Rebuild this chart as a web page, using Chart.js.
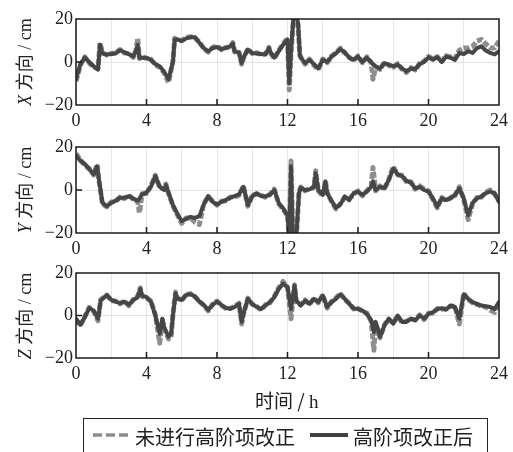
<!DOCTYPE html>
<html>
<head>
<meta charset="utf-8">
<script src="https://cdn.jsdelivr.net/npm/chart.js@4"></script>
<style>
  body { margin: 0; background: #fff; }
  #wrap { position: relative; width: 513px; height: 452px; overflow: hidden; font-family: 'Liberation Serif', 'Noto Sans CJK SC', serif; color: #222; }
  canvas { position: absolute; left: 0; }
  .ytitle { position: absolute; width: 120px; text-align: center; font-size: 18px; transform: translate(-50%, -50%) rotate(-90deg); white-space: nowrap; }
  .ytitle i { font-family: 'Liberation Serif', serif; }
  .lab { position: absolute; white-space: nowrap; font-family: 'Noto Sans CJK SC', sans-serif; }
</style>
</head>
<body>
<div id="wrap">
  <canvas id="cX" style="top:0px" width="513" height="130"></canvas>
  <canvas id="cY" style="top:126px" width="513" height="130"></canvas>
  <canvas id="cZ" style="top:252px" width="513" height="140"></canvas>

  <div class="ytitle" style="left:23px; top:62px;"><i>X</i> 方向 / cm</div>
  <div class="ytitle" style="left:23px; top:190px;"><i>Y</i> 方向 / cm</div>
  <div class="ytitle" style="left:23px; top:316px;"><i>Z</i> 方向 / cm</div>

  <div class="lab" style="left:255px; top:386px; font-size:19px;">时间 / <span style="font-family:'Liberation Serif',serif;">h</span></div>

  <div style="position:absolute; left:83px; top:418px; width:403px; height:50px; border:1.5px solid #222;"></div>
  <svg style="position:absolute; left:92px; top:430px;" width="40" height="10">
    <line x1="1" y1="5" x2="39" y2="5" stroke="#8c8c8c" stroke-width="3.5" stroke-dasharray="9,4"></line>
  </svg>
  <div class="lab" style="left:135px; top:422px; font-size:20px;">未进行高阶项改正</div>
  <svg style="position:absolute; left:309px; top:430px;" width="40" height="10">
    <line x1="1" y1="5" x2="39" y2="5" stroke="#404040" stroke-width="4"></line>
  </svg>
  <div class="lab" style="left:353px; top:422px; font-size:20px;">高阶项改正后</div>
</div>

<script>
// hours
var timeX = [0,0.25,0.5,0.75,1.0,1.25,1.36,1.5,1.75,2.0,
    2.25,2.5,2.75,3.0,3.25,3.4,3.5,3.6,3.75,4.0,
    4.25,4.5,4.75,5.0,5.25,5.5,5.6,5.75,6.0,6.25,
    6.5,6.75,7.0,7.25,7.5,7.75,8.0,8.25,8.5,8.75,
    8.9,9.0,9.25,9.4,9.5,9.75,10.0,10.25,10.5,10.75,
    10.95,11.0,11.25,11.5,11.75,12.0,12.1,12.2,12.35,12.5,
    12.6,12.7,12.75,13.0,13.25,13.5,13.75,14.0,14.25,14.5,
    14.75,15.0,15.25,15.5,15.75,16.0,16.25,16.5,16.75,16.85,
    17.0,17.25,17.5,17.75,18.0,18.25,18.5,18.75,19.0,19.25,
    19.5,19.75,20.0,20.25,20.5,20.75,21.0,21.25,21.5,21.75,
    22.0,22.25,22.5,22.75,23.0,23.25,23.5,23.75,24.0];
// cm, after higher-order correction
var xAfter = [-8,-1,2,0,-2,-3.5,8,4,3.5,3.7,
    4,5.5,4.5,3.7,2.6,5,8,2,2,2,
    1,-1,-2,-4.5,-8,0,10.5,10.5,9.7,11,
    11.5,11.5,9,6.5,5,6.5,7,6,6.5,7.3,
    8.5,5,4.2,-0.5,2,5.8,4.2,4,3.7,3.5,
    6.5,5,2,5,8,10.5,-10,5,22,22,
    18,3.5,2,-0.5,1,-1,-3,1,0,2.5,
    4,6,4.5,2,1,2.5,0,2,0,-1,
    -2,-3,-0.5,-1.2,-2,-1.2,-3,-4.4,-3,-3.3,
    -1,0,2.2,1,2.2,0,2.5,2,1,4.2,
    3.7,5,4.2,6.5,7.3,5.3,4.2,3.5,5];
// cm, without correction
var xBefore = [-9,-1.5,2.4,-0.4,-2.4,-3,9,4.4,3.2,4,
    4.3,5.8,4.2,4,2.2,5.4,11,1.6,2.4,1.7,
    1.3,-1.4,-2.5,-5,-9.5,0.4,11,10.2,10,11.4,
    11.8,11.2,9.3,6.2,4.6,6.8,7.4,5.7,6.8,7,
    9,4.6,4.5,-1,1.6,6.2,3.9,4.3,3.4,3.8,
    6.8,4.6,1.6,5.3,8.4,11,-13,4,22,22,
    17,3,2.4,-1,1.3,-1.5,-3.5,1.4,-0.3,2.8,
    4.3,6.4,4.2,2.3,0.6,2.8,-0.3,2.4,-0.5,-8,
    -2.4,-3.4,-0.2,-1.6,-2.4,-0.8,-3.4,-4.8,-2.6,-3.7,
    -0.6,0.4,2.6,1.4,2.5,0.4,2.9,2.4,1.6,5.5,
    6.5,6.5,7.3,9.7,10.5,8.4,6.5,6.5,9.7];

var timeY = [0,0.25,0.5,0.75,1.0,1.2,1.3,1.5,1.75,2.0,
    2.25,2.5,2.75,3.0,3.25,3.5,3.6,3.75,4.0,4.25,
    4.5,4.75,5.0,5.1,5.25,5.5,5.75,6.0,6.25,6.5,
    6.75,7.0,7.25,7.5,7.75,8.0,8.25,8.5,8.75,9.0,
    9.25,9.5,9.75,10.0,10.25,10.5,10.75,11.0,11.25,11.5,
    11.75,12.0,12.1,12.2,12.3,12.5,12.65,12.75,13.0,13.25,
    13.5,13.6,13.75,14.0,14.15,14.25,14.5,14.75,15.0,15.25,
    15.5,15.75,16.0,16.25,16.5,16.75,16.85,17.0,17.25,17.5,
    17.75,18.0,18.25,18.5,18.75,19.0,19.25,19.5,19.75,20.0,
    20.25,20.5,20.75,21.0,21.25,21.5,21.75,22.0,22.25,22.5,
    22.75,23.0,23.25,23.5,23.75,24.0];
var yAfter = [16,13.6,12,9.7,7.3,11,5,-6,-7.5,-6,
    -5,-3.6,-3.6,-2.8,-4,-5,-4,-2,-1.2,1.5,
    6.5,1.5,0,2.3,-1.2,-7,-11,-14.5,-13.4,-12.5,
    -13,-12.2,-6.7,-2.8,-5.5,-6.7,-5.5,-4.7,-3.6,-2.8,
    -2,1.5,-7,-2.8,-1.5,-2.8,-3,-2.3,0,-6,
    -8.5,-11.7,-22,11,-22,-22,-1.5,1,0,0.3,
    1.5,7.8,0,-2.3,4,-1.5,-5,-8.3,-6.7,-3,
    -4.7,-1.5,-0.8,-2.3,-0.8,1.5,4,0,1.5,0.8,
    4.7,10,7.3,6.5,4.2,3.4,0.8,1.5,0,-0.8,
    -3.9,-7.8,-3.9,-4.7,-3.9,-2.3,0.8,-3.9,-11.7,-6,
    -3.9,-3,-1.5,-0.8,-1.5,-5.5];
var yBefore = [17,14,11.5,10,7,12,4.5,-6.5,-7.8,-5.6,
    -5.3,-3.3,-4,-2.5,-4.4,-5.4,-10.6,-1.7,-1.6,1.9,
    6.8,1.1,0.4,2.8,-1.6,-7.4,-11.5,-15.5,-13,-13,
    -15,-16,-6.3,-3.2,-5.2,-7,-5.2,-5,-3.3,-3.2,
    -2.4,1.9,-7.5,-2.5,-1.9,-2.5,-3.4,-2,0.4,-6.4,
    -9,-12,-22,13.5,-22,-22,-1.1,1.4,-0.4,0.7,
    1.1,9,-0.4,-2.7,4.4,-1.1,-5.4,-8.8,-6.3,-3.4,
    -4.3,-1.9,-0.4,-2.7,-0.4,1.9,10.5,-0.4,1.9,0.4,
    5,11,7,6.9,3.8,3.8,0.4,1.9,0.4,-0.4,
    -4.3,-8.3,-3.5,-5,-3.5,-2.7,1.5,-4.3,-13.8,-6.4,
    -3.5,-3.4,-1.1,0,-1.9,-5];

var timeZ = [0,0.25,0.5,0.75,1.0,1.25,1.4,1.75,2.0,2.25,
    2.5,2.75,3.0,3.25,3.5,3.65,3.75,4.0,4.25,4.5,
    4.75,4.9,5.0,5.25,5.4,5.5,5.65,5.75,6.0,6.25,
    6.5,6.75,7.0,7.25,7.5,7.75,8.0,8.25,8.5,8.75,
    9.0,9.25,9.4,9.5,9.75,10.0,10.25,10.5,10.75,11.0,
    11.25,11.5,11.75,12.0,12.2,12.4,12.5,12.75,13.0,13.25,
    13.5,13.75,14.0,14.25,14.5,14.75,15.0,15.25,15.5,15.75,
    16.0,16.25,16.5,16.75,16.9,17.0,17.25,17.5,17.75,18.0,
    18.25,18.5,18.75,19.0,19.25,19.5,19.75,20.0,20.25,20.5,
    20.75,21.0,21.25,21.5,21.75,22.0,22.25,22.5,22.75,23.0,
    23.25,23.5,23.75,24.0];
var zAfter = [-1.5,-4.4,-0.8,3.5,2.3,-1.5,7,9.7,7.3,6.5,
    5.8,6.5,5,7.3,8.6,12.5,9.4,8.6,6.5,0,
    -8.6,-1.5,-5.5,-10,-8.6,0,10.5,8,7.3,9.7,
    10,9,6.5,5,2.6,5,6.5,5,3.6,3.1,
    4,5.5,-3,0.8,7.8,5.5,4,3,4.7,6.3,
    8.6,12.5,15,13.5,3,14,7,4.7,7,5.5,
    7.8,6.3,9.4,4,6.3,7.8,10,7.8,5.5,3.4,
    3,2.3,0.8,-2.3,-7.8,-3,-10,-4.7,-1.5,-3.9,
    0,-3,-3,-1.5,-2.3,0,-1.5,0.8,1.5,3,
    3.4,2.8,4.7,4,-1.5,10,7.8,6.3,5.5,4.7,
    4.4,4,3,6.3];
var zBefore = [-2,-4.8,-0.5,3.8,2,-2.5,7.5,9.5,7,6.8,
    5.5,6.8,4.6,7.5,9,13,9,8.3,6.8,0.5,
    -13,-2,-6,-11,-9.5,0.5,11,8.3,7,10,
    10.3,8.7,6.8,4.7,2.2,5.3,6.8,4.7,3.3,3.4,
    4.3,5.8,-4,0.4,8.2,5.2,4.3,2.7,5,6,
    8.9,13,16,13,-1.5,14.5,6.5,5,7.3,5.2,
    8.2,6,9.7,3.5,6.6,8.2,10.4,7.5,5.8,3.1,
    3.3,2,1.1,-2.8,-16.4,-3.5,-10.5,-4.3,-1.8,-3.5,
    -0.3,-3.4,-2.6,-1.8,-2,0.3,-1.9,1.1,1.2,3.3,
    3.1,3.1,4.4,4.3,-4,10.5,7.5,6,5.2,4.4,
    4,2.5,1.5,6];

var xTicks = [4, 8, 12, 16, 20];
var yTicks = [-20, 0, 20];

// box round the plot area plus the small inward tick marks
var framePlugin = {
    id: 'frame',
    afterDraw: function (chart) {
        var ctx = chart.ctx;
        var a = chart.chartArea;
        var xs = chart.scales.x, ys = chart.scales.y;
        ctx.save();
        ctx.strokeStyle = '#1a1a1a';
        ctx.lineWidth = 1.5;
        ctx.strokeRect(a.left, a.top, a.right - a.left, a.bottom - a.top);
        ctx.beginPath();
        xTicks.forEach(function (t) {
            var px = xs.getPixelForValue(t);
            ctx.moveTo(px, a.bottom);
            ctx.lineTo(px, a.bottom - 6);
        });
        var py = ys.getPixelForValue(0);
        ctx.moveTo(a.left, py);
        ctx.lineTo(a.left + 6, py);
        ctx.stroke();
        ctx.restore();
    }
};

function toPoints(times, vals) {
    return times.map(function (t, i) { return { x: t, y: vals[i] }; });
}

function makePanel(id, times, after, before, padTop, padBottom) {
    var ctx = document.getElementById(id).getContext('2d');
    return new Chart(ctx, {
        type: 'line',
        data: {
            datasets: [{
                label: '高阶项改正后',
                data: toPoints(times, after),
                borderColor: '#464646',
                borderWidth: 4,
                borderJoinStyle: 'round',
                borderCapStyle: 'round',
                pointRadius: 0,
                tension: 0
            },
            {
                label: '未进行高阶项改正',
                data: toPoints(times, before),
                borderColor: '#8e8e8e',
                borderWidth: 5,
                borderDash: [6, 2],
                borderJoinStyle: 'round',
                pointRadius: 0,
                tension: 0
            }]
        },
        options: {
            responsive: false,
            animation: false,
            events: [],
            layout: { padding: { left: 0, right: 13, top: padTop, bottom: padBottom } },
            plugins: { legend: { display: false }, tooltip: { enabled: false } },
            scales: {
                x: {
                    type: 'linear',
                    min: 0, max: 24,
                    afterFit: function (s) { s.height = 23; },
                    border: { display: false },
                    grid: { color: '#e6e6e6', lineWidth: 1, drawTicks: false },
                    ticks: {
                        stepSize: 2,
                        autoSkip: false,
                        maxRotation: 0,
                        padding: 5,
                        color: '#222',
                        font: { family: 'Liberation Serif', size: 18 },
                        callback: function (v) { return v % 4 === 0 ? String(v) : ''; }
                    }
                },
                y: {
                    min: -20, max: 20,
                    afterFit: function (s) { s.width = 76; },
                    afterBuildTicks: function (s) {
                        s.ticks = yTicks.map(function (v) { return { value: v }; });
                    },
                    border: { display: false },
                    grid: {
                        drawTicks: false,
                        lineWidth: 1,
                        color: function (c) { return c.tick && c.tick.value === 0 ? '#e2e2e2' : 'rgba(0,0,0,0)'; }
                    },
                    ticks: {
                        padding: 3,
                        color: '#222',
                        font: { family: 'Liberation Serif', size: 18 },
                        callback: function (v) { return String(v).replace('-', '\u2212'); }
                    }
                }
            }
        },
        plugins: [framePlugin]
    });
}

makePanel('cX', timeX, xAfter, xBefore, 19, 2);
makePanel('cY', timeY, yAfter, yBefore, 21, 0);
makePanel('cZ', timeZ, zAfter, zBefore, 21, 11);
</script>
</body>
</html>
